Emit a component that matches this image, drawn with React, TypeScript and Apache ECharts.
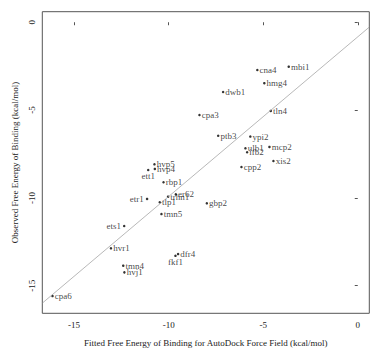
import React, { useEffect, useRef } from "react";
import * as echarts from "echarts";

const names = ["cna4","mbi1","hmg4","dwb1","tln4","cpa3","ptb3","ypi2","ulb1","mcp2","ifb2","xis2","cpp2","hvp5","hvp4","ett1","rbp1","er62","trhn1","etr1","tlp1","gbp2","tmn5","ets1","hvr1","dfr4","fkf1","tmn4","hvj1","cpa6"];
const fitted = [-5.31,-3.65,-4.94,-7.12,-4.6,-8.37,-7.38,-5.68,-5.94,-4.67,-5.85,-4.46,-6.15,-10.75,-10.73,-11.08,-10.27,-9.62,-10.03,-11.14,-10.47,-7.98,-10.38,-12.35,-13.05,-9.5,-9.64,-12.4,-12.34,-16.14];
const observed = [-2.72,-2.53,-3.47,-3.97,-5.05,-5.28,-6.46,-6.51,-7.18,-7.1,-7.4,-7.9,-8.24,-8.09,-8.35,-8.41,-9.11,-9.8,-9.93,-10.06,-10.25,-10.31,-10.92,-11.6,-12.87,-13.2,-13.3,-13.86,-14.24,-15.59];
const tickValues = [-15, -10, -5, 0];
const fitSlope = 0.909;
const fitIntercept = -0.83;
const xMin = -16.68, xMax = 0.61;
const yMin = -16.57, yMax = 0.6;

const labelStyle: Record<string, any> = {
  ett1: { position: "bottom", distance: 0, offset: [3, -1] },
  etr1: { position: "left", distance: 2 },
  ets1: { position: "left", distance: 2 },
  fkf1: { position: "bottom", distance: 0, offset: [8, -2] },
  ifb2: { position: "right", offset: [0, 3] },
  er62: { position: "right", offset: [0, -3] },
  hvp5: { position: "right", offset: [0, -4] },
  ulb1: { position: "right", offset: [0, -3] },
  trhn1: { position: "right", offset: [0, 1] },
};

const FONT = "Liberation Serif";

export default function App() {
  const ref = useRef<HTMLDivElement>(null);
  useEffect(() => {
    document.body.style.margin = "0";
    const chart = echarts.init(ref.current!, null, { renderer: "svg" });
    const points = names.map((n, i) => ({
      name: n,
      value: [fitted[i], observed[i]],
      label: Object.assign({ show: true, position: "right", distance: 1 }, labelStyle[n] || {}),
    }));
    chart.setOption({
      animation: false,
      grid: { left: 42.3, right: 12.7, top: 11.7, bottom: 50.7, show: true, borderColor: "#555", borderWidth: 1 },
      xAxis: {
        type: "value", min: xMin, max: xMax,
        splitLine: { show: false },
        axisLine: { show: false },
        axisTick: { show: true, customValues: tickValues, length: 3, inside: false, lineStyle: { color: "#555" } },
        axisLabel: { customValues: tickValues, margin: 7, color: "#222", fontFamily: FONT, fontSize: 9 },
      },
      yAxis: {
        type: "value", min: yMin, max: yMax,
        splitLine: { show: false },
        axisLine: { show: false },
        axisTick: { show: true, customValues: tickValues, length: 3, inside: false, lineStyle: { color: "#555" } },
        axisLabel: { customValues: tickValues, rotate: 90, margin: 6, color: "#222", fontFamily: FONT, fontSize: 9 },
      },
      graphic: [
        { type: "text", x: 205.8, y: 343, style: { text: "Fitted Free Energy of Binding for AutoDock Force Field (kcal/mol)", fill: "#222", font: `9px "${FONT}"`, align: "center", verticalAlign: "middle" } },
        { type: "text", x: 15, y: 162.5, rotation: Math.PI / 2, style: { text: "Observed Free Energy of Binding (kcal/mol)", fill: "#222", font: `9px "${FONT}"`, align: "center", verticalAlign: "middle" } },
      ],
      series: [
        {
          type: "line",
          data: [[xMin, fitSlope * xMin + fitIntercept], [xMax, fitSlope * xMax + fitIntercept]],
          showSymbol: false,
          silent: true,
          lineStyle: { color: "#999", width: 0.7 },
        },
        {
          type: "scatter",
          data: points,
          symbolSize: 2.5,
          itemStyle: { color: "#000" },
          label: { color: "#111", fontFamily: FONT, fontSize: 9, formatter: "{b}" },
          labelLayout: { hideOverlap: false },
        },
      ],
    });
    return () => chart.dispose();
  }, []);
  return <div ref={ref} style={{ width: 382, height: 364 }} />;
}
